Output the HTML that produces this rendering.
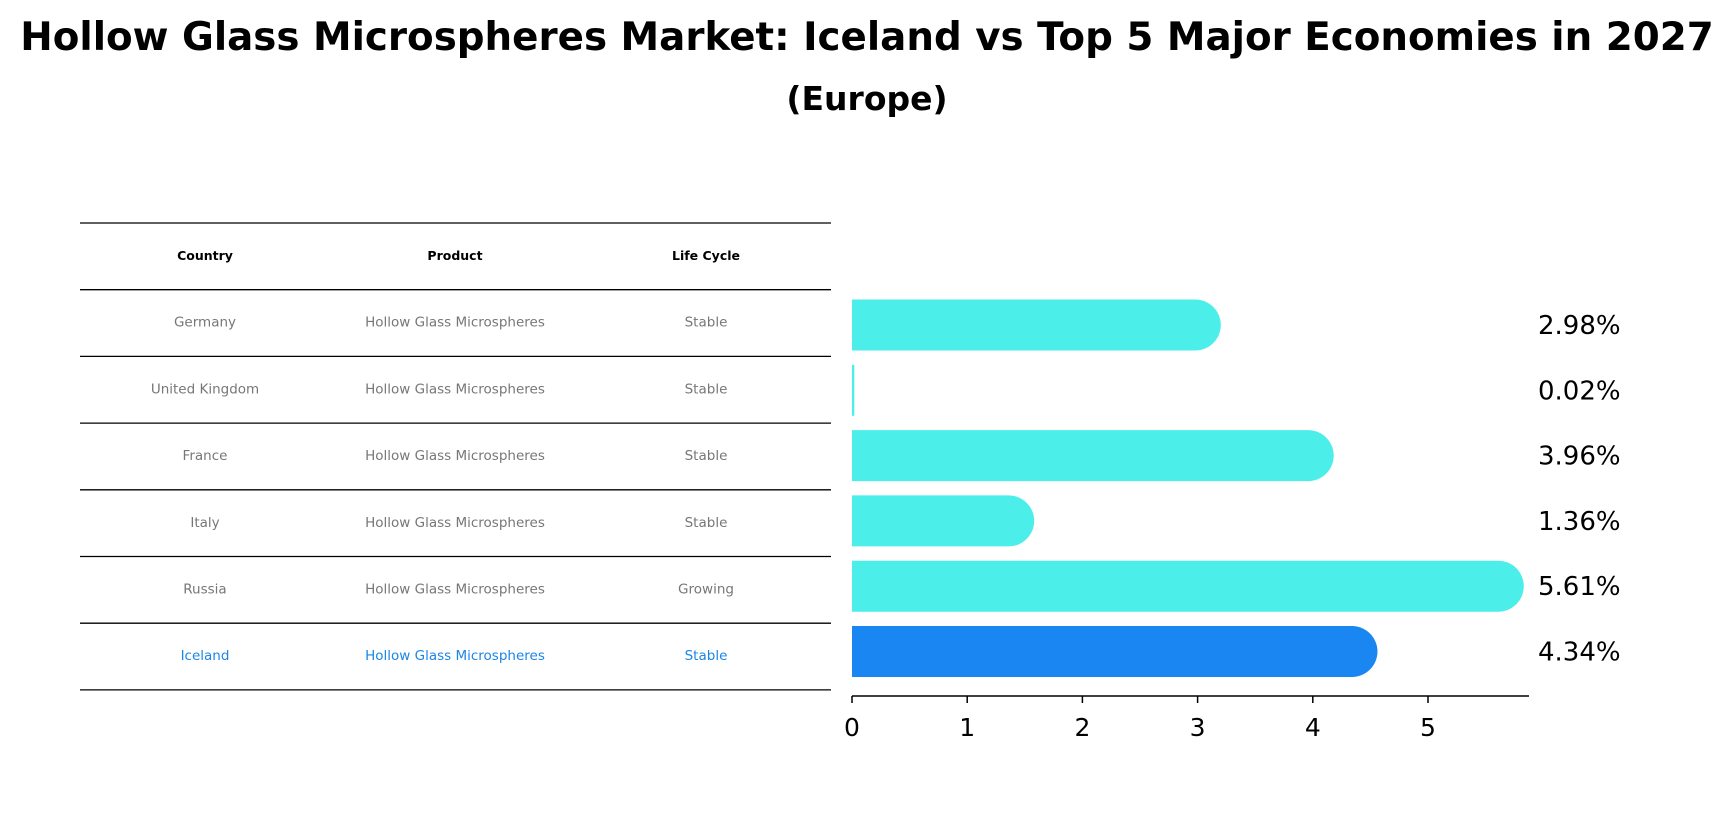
<!DOCTYPE html>
<html><head><meta charset="utf-8"><style>
body{margin:0;background:#fff;font-family:"DejaVu Sans","Liberation Sans",sans-serif}
</style></head><body>
<svg id="chart" width="1734" height="823" xmlns="http://www.w3.org/2000/svg" font-family="DejaVu Sans, Liberation Sans, sans-serif">
<text x="867" y="50" text-anchor="middle" font-size="38.8" font-weight="bold">Hollow Glass Microspheres Market: Iceland vs Top 5 Major Economies in 2027</text>
<text x="867" y="110" text-anchor="middle" font-size="33" font-weight="bold">(Europe)</text>
<g id="table"></g>
<g id="bars"></g>
</svg>
<script>
const countries=["Germany","United Kingdom","France","Italy","Russia","Iceland"];
const products=["Hollow Glass Microspheres","Hollow Glass Microspheres","Hollow Glass Microspheres","Hollow Glass Microspheres","Hollow Glass Microspheres","Hollow Glass Microspheres"];
const lifeCycles=["Stable","Stable","Stable","Stable","Growing","Stable"];
const values=[2.98,0.02,3.96,1.36,5.61,4.34];
const xTicks=[0,1,2,3,4,5];
const NS="http://www.w3.org/2000/svg";
function mk(t,a,p){const e=document.createElementNS(NS,t);for(const k in a)e.setAttribute(k,a[k]);p.appendChild(e);return e;}
const tbl=document.getElementById('table'),bars=document.getElementById('bars');
const lineY=i=>223+i*66.7;
const colX=[205,455,706];
for(let i=0;i<=7;i++){const l=mk('line',{x1:80,x2:831,y1:lineY(i),y2:lineY(i),stroke:'#000','stroke-width':1.3},tbl);

}
["Country","Product","Life Cycle"].forEach((h,j)=>{const t=mk('text',{x:colX[j],y:lineY(0)+37,'text-anchor':'middle','font-size':12.5,'font-weight':'bold'},tbl);t.textContent=h;

});
countries.forEach((c,i)=>{const col=c==="Iceland"?'#1a86e8':'#777';[c,products[i],lifeCycles[i]].forEach((v,j)=>{const t=mk('text',{x:colX[j],y:lineY(i+1)+37,'text-anchor':'middle','font-size':13.5,fill:col},tbl);t.textContent=v;

});});
const x0=852,unit=115.2;const xs=v=>x0+v*unit;
const yc=i=>325+i*65.3;const bh=51;
values.forEach((v,i)=>{const col=countries[i]==="Iceland"?'#1a86f2':'#4beee9';const r=bh/2;
const w=xs(v)-x0;
let d;
if(w<r){const ww=Math.max(w,2);d=`M${x0} ${yc(i)-r}h${ww}v${bh}h${-ww}z`;}
else d=`M${x0} ${yc(i)-r}H${xs(v)}A${r} ${r} 0 0 1 ${xs(v)} ${yc(i)+r}H${x0}Z`;
const p=mk('path',{d:d,fill:col},bars);


const t=mk('text',{x:1538,y:yc(i)+9,'font-size':26},bars);t.textContent=v.toFixed(2)+'%';

});
const ax=mk('line',{x1:x0,x2:1529,y1:696,y2:696,stroke:'#000','stroke-width':1.5},bars);


xTicks.forEach(v=>{const tk=mk('line',{x1:xs(v),x2:xs(v),y1:696,y2:703,stroke:'#000','stroke-width':1.5},bars);


const t=mk('text',{x:xs(v),y:736,'text-anchor':'middle','font-size':25},bars);t.textContent=v;

});
</script>
</body></html>
